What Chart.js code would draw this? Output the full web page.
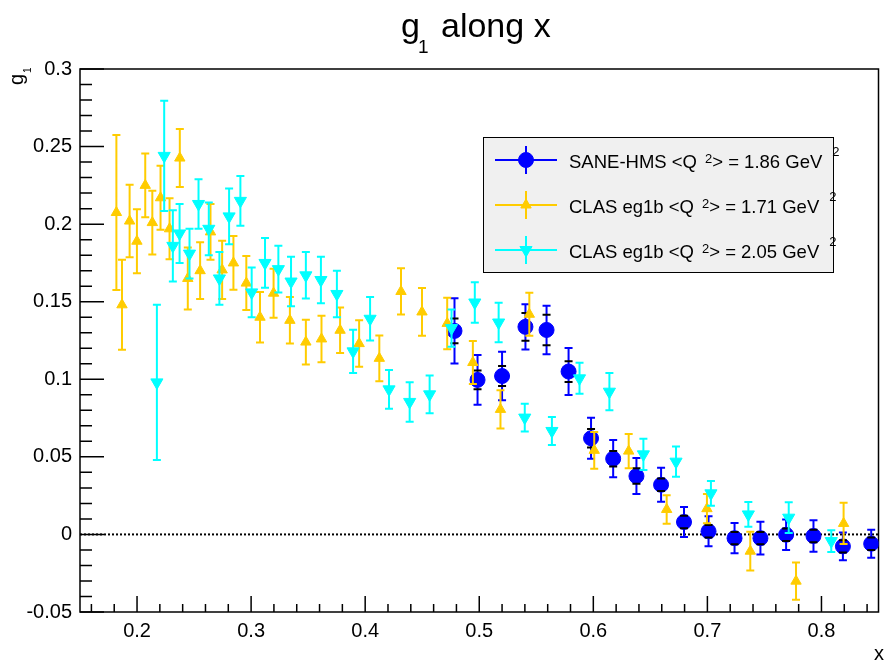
<!DOCTYPE html>
<html><head><meta charset="utf-8">
<script src="https://cdn.jsdelivr.net/npm/chart.js@4/dist/chart.umd.min.js"></script>
<style>html,body{margin:0;padding:0;background:#fff;overflow:hidden}canvas{display:block}</style>
</head><body>
<canvas id="c" width="887" height="665"></canvas>
<script>
// ---- data ----
const xTicks = [0.2, 0.3, 0.4, 0.5, 0.6, 0.7, 0.8];
const yTicks = [-0.05, 0, 0.05, 0.1, 0.15, 0.2, 0.25, 0.3];

const saneX    = [0.4783, 0.4985, 0.520, 0.5405, 0.559, 0.5783, 0.598, 0.6174, 0.6378, 0.6594, 0.6795, 0.701, 0.7238, 0.7465, 0.769, 0.793, 0.8188, 0.8436];
const saneY    = [0.1312, 0.0996, 0.1021, 0.1338, 0.1318, 0.105, 0.062, 0.0488, 0.0376, 0.032, 0.008, 0.002, -0.0024, -0.0024, -0.0002, -0.001, -0.0077, -0.006];
const saneErr  = [0.021, 0.016, 0.0156, 0.0146, 0.0156, 0.0152, 0.0132, 0.012, 0.0116, 0.011, 0.0097, 0.0097, 0.0097, 0.0106, 0.0099, 0.0102, 0.009, 0.009];
const saneStat = [0.008, 0.006, 0.0065, 0.009, 0.0098, 0.0067, 0.006, 0.005, 0.005, 0.004, 0.004, 0.004, 0.004, 0.004, 0.004, 0.004, 0.004, 0.004];

const clas171X   = [0.1819, 0.1868, 0.1935, 0.1999, 0.2072, 0.2134, 0.2206, 0.2285, 0.2375, 0.2445, 0.2553, 0.2644, 0.2746, 0.2845, 0.2958, 0.3078, 0.3197, 0.334, 0.348, 0.3617, 0.378, 0.3947, 0.4124, 0.4314, 0.4498, 0.4719, 0.4944, 0.5186, 0.5439, 0.6008, 0.631, 0.6643, 0.6996, 0.7376, 0.7777, 0.8194];
const clas171Y   = [0.2075, 0.148, 0.202, 0.189, 0.225, 0.201, 0.217, 0.197, 0.2426, 0.165, 0.170, 0.195, 0.1705, 0.175, 0.162, 0.140, 0.1555, 0.138, 0.124, 0.126, 0.1316, 0.123, 0.1135, 0.1566, 0.1434, 0.136, 0.1108, 0.0806, 0.1419, 0.0542, 0.0537, 0.0161, 0.0166, -0.0108, -0.0301, 0.0071];
const clas171Err = [0.050, 0.029, 0.0234, 0.0206, 0.0205, 0.0206, 0.0206, 0.0197, 0.0187, 0.020, 0.0183, 0.018, 0.0188, 0.0173, 0.0174, 0.0163, 0.0158, 0.015, 0.0144, 0.015, 0.0147, 0.015, 0.0147, 0.0149, 0.0154, 0.0166, 0.0139, 0.0123, 0.0138, 0.0118, 0.011, 0.0092, 0.0094, 0.0125, 0.012, 0.0133];

const clas205X   = [0.2174, 0.2238, 0.2314, 0.2373, 0.246, 0.2539, 0.2629, 0.2722, 0.2807, 0.2906, 0.3005, 0.3122, 0.3239, 0.335, 0.348, 0.3612, 0.3752, 0.3894, 0.4043, 0.4209, 0.439, 0.4565, 0.4757, 0.4961, 0.517, 0.5399, 0.5637, 0.5879, 0.6141, 0.6439, 0.6725, 0.7031, 0.7359, 0.7713, 0.8086];
const clas205Y   = [0.098, 0.244, 0.186, 0.194, 0.181, 0.213, 0.197, 0.165, 0.205, 0.215, 0.156, 0.175, 0.171, 0.163, 0.167, 0.164, 0.155, 0.118, 0.139, 0.0935, 0.0854, 0.0903, 0.133, 0.1495, 0.1366, 0.0753, 0.0667, 0.1006, 0.092, 0.0516, 0.0469, 0.0265, 0.0129, 0.0108, -0.0043];
const clas205Err = [0.050, 0.0355, 0.023, 0.019, 0.016, 0.016, 0.017, 0.017, 0.018, 0.016, 0.016, 0.016, 0.015, 0.016, 0.015, 0.015, 0.015, 0.014, 0.014, 0.0125, 0.0127, 0.0122, 0.012, 0.013, 0.0127, 0.009, 0.009, 0.010, 0.012, 0.010, 0.0097, 0.008, 0.008, 0.0099, 0.007];

const seriesLabels = [
  ['SANE-HMS <Q', '> = 1.86 GeV'],
  ['CLAS eg1b <Q', '> = 1.71 GeV'],
  ['CLAS eg1b <Q', '> = 2.05 GeV']
];

// ---- styling ----
const FONT = "'Liberation Sans', Arial, Helvetica, sans-serif";
const BLUE = '#0000ff', ORANGE = '#ffcc00', CYAN = '#00ffff';
const pts = (xs, ys) => xs.map((x, i) => ({x: x, y: ys[i]}));
const fmt = v => String(+(+v).toFixed(3));

function drawMarker(ctx, style, x, y, color) {
  ctx.save();
  ctx.fillStyle = color; ctx.strokeStyle = color; ctx.lineWidth = 1;
  Chart.helpers.drawPoint(ctx, {pointStyle: style.pointStyle, radius: style.radius, rotation: style.rotation || 0, borderWidth: 1}, x, y);
  ctx.restore();
}

const axesPlugin = {
  id: 'rootAxes',
  beforeDatasetsDraw(chart) {
    const {ctx, chartArea: a} = chart;
    const sx = chart.scales.x, sy = chart.scales.y;
    ctx.save();
    ctx.strokeStyle = '#000';
    ctx.lineWidth = 1.5;
    ctx.strokeRect(a.left, a.top, a.right - a.left, a.bottom - a.top);
    ctx.beginPath();
    for (let k = Math.ceil(sx.min / 0.02 - 1e-6); k * 0.02 <= sx.max + 1e-9; k++) {
      const v = k * 0.02;
      const px = sx.getPixelForValue(v);
      const major = Math.abs(v * 10 - Math.round(v * 10)) < 1e-6;
      ctx.moveTo(px, a.bottom); ctx.lineTo(px, a.bottom - (major ? 16 : 8));
    }
    for (let k = Math.ceil(sy.min / 0.01 - 1e-6); k * 0.01 <= sy.max + 1e-9; k++) {
      const v = k * 0.01;
      const py = sy.getPixelForValue(v);
      const major = Math.abs(v * 20 - Math.round(v * 20)) < 1e-6;
      ctx.moveTo(a.left, py); ctx.lineTo(a.left + (major ? 24 : 12), py);
    }
    ctx.stroke();
    // dotted zero line
    const y0 = sy.getPixelForValue(0);
    ctx.beginPath();
    ctx.setLineDash([2, 2]);
    ctx.lineWidth = 2;
    ctx.moveTo(a.left, y0); ctx.lineTo(a.right, y0);
    ctx.stroke();
    ctx.restore();
  }
};

const errPlugin = {
  id: 'errBars',
  beforeDatasetDraw(chart, args) {
    const ds = chart.data.datasets[args.index];
    if (!ds.err) return;
    const ctx = chart.ctx, sx = chart.scales.x, sy = chart.scales.y;
    ctx.save();
    ctx.strokeStyle = ds.backgroundColor; ctx.lineWidth = 2;
    ctx.beginPath();
    ds.data.forEach((p, j) => {
      const px = sx.getPixelForValue(p.x);
      const y1 = sy.getPixelForValue(p.y + ds.err[j]);
      const y2 = sy.getPixelForValue(p.y - ds.err[j]);
      ctx.moveTo(px, y1); ctx.lineTo(px, y2);
      ctx.moveTo(px - 4, y1); ctx.lineTo(px + 4, y1);
      ctx.moveTo(px - 4, y2); ctx.lineTo(px + 4, y2);
    });
    ctx.stroke();
    ctx.restore();
  },
  afterDatasetDraw(chart, args) {
    const ds = chart.data.datasets[args.index];
    if (!ds.stat) return;
    const ctx = chart.ctx, sx = chart.scales.x, sy = chart.scales.y;
    ctx.save();
    ctx.strokeStyle = '#000'; ctx.lineWidth = 2;
    ctx.beginPath();
    ds.data.forEach((p, j) => {
      const px = sx.getPixelForValue(p.x);
      [p.y + ds.stat[j], p.y - ds.stat[j]].forEach(v => {
        const py = sy.getPixelForValue(v);
        ctx.moveTo(px - 4, py); ctx.lineTo(px + 4, py);
      });
    });
    ctx.stroke();
    ctx.restore();
  }
};

const textPlugin = {
  id: 'rootText',
  afterDraw(chart) {
    const ctx = chart.ctx;
    ctx.save();
    ctx.fillStyle = '#000';
    ctx.textBaseline = 'alphabetic';
    ctx.textAlign = 'left';
    // title
    ctx.font = '34px ' + FONT;
    ctx.fillText('g', 401, 37);
    ctx.font = '19px ' + FONT;
    ctx.fillText('1', 418, 53);
    ctx.font = '34px ' + FONT;
    ctx.fillText('along x', 441, 37);
    // x axis title
    ctx.font = '20px ' + FONT;
    ctx.fillText('x', 874, 660);
    // y axis title (rotated)
    ctx.save();
    ctx.translate(23, 85);
    ctx.rotate(-Math.PI / 2);
    ctx.font = '20px ' + FONT;
    ctx.fillText('g', 0, 0);
    const gw = ctx.measureText('g').width;
    ctx.font = '10px ' + FONT;
    ctx.fillText('1', gw + 1, 8);
    ctx.restore();
    // legend
    const bx = 483, by = 137, bw = 350, bh = 135;
    ctx.fillStyle = '#f0f0f0';
    ctx.fillRect(bx, by, bw, bh);
    ctx.strokeStyle = '#000'; ctx.lineWidth = 1;
    ctx.strokeRect(bx + 0.5, by + 0.5, bw, bh);
    const rows = [160, 205, 250];
    chart.data.datasets.slice().sort((a, b) => a.legendRow - b.legendRow).forEach((ds, i) => {
      const cy = rows[i];
      ctx.strokeStyle = ds.backgroundColor; ctx.lineWidth = 2;
      ctx.beginPath();
      ctx.moveTo(495, cy); ctx.lineTo(557, cy);
      ctx.moveTo(526, cy - 14); ctx.lineTo(526, cy + 14);
      ctx.stroke();
      drawMarker(ctx, ds, 526, cy, ds.backgroundColor);
      const lab = seriesLabels[ds.legendRow];
      ctx.fillStyle = '#000';
      ctx.font = '18.5px ' + FONT;
      const base = cy + 8;
      ctx.fillText(lab[0], 569, base);
      const w1 = ctx.measureText(lab[0]).width;
      ctx.font = '13px ' + FONT;
      ctx.fillText('2', 569 + w1 + 8, base - 5);
      const x2 = 569 + w1 + 8 + ctx.measureText('2').width;
      ctx.font = '18.5px ' + FONT;
      ctx.fillText(lab[1], x2, base);
      const w2 = ctx.measureText(lab[1]).width;
      ctx.font = '13px ' + FONT;
      ctx.fillText('2', x2 + w2 + 10, base - 12);
    });
    ctx.restore();
  }
};

new Chart(document.getElementById('c'), {
  type: 'scatter',
  data: {
    datasets: [
      {label: 'SANE-HMS', data: pts(saneX, saneY), err: saneErr, stat: saneStat, legendRow: 0,
       backgroundColor: BLUE, borderColor: BLUE, pointStyle: 'circle', radius: 7.5, pointRadius: 7.5, borderWidth: 1, order: 3},
      {label: 'CLAS eg1b 1.71', data: pts(clas171X, clas171Y), err: clas171Err, legendRow: 1,
       backgroundColor: ORANGE, borderColor: ORANGE, pointStyle: 'triangle', radius: 6, pointRadius: 6, borderWidth: 1, order: 2},
      {label: 'CLAS eg1b 2.05', data: pts(clas205X, clas205Y), err: clas205Err, legendRow: 2,
       backgroundColor: CYAN, borderColor: CYAN, pointStyle: 'triangle', rotation: 180, pointRotation: 180, radius: 7, pointRadius: 7, borderWidth: 1, order: 1}
    ]
  },
  options: {
    responsive: false,
    animation: false,
    events: [],
    devicePixelRatio: 1,
    layout: {padding: {top: 69, right: 2, left: 0, bottom: 0}},
    plugins: {legend: {display: false}, title: {display: false}, tooltip: {enabled: false}},
    scales: {
      x: {
        type: 'linear', min: 0.15, max: 0.85,
        grid: {display: false, drawTicks: false}, border: {display: false},
        ticks: {padding: 7, color: '#000', font: {family: FONT, size: 20}, maxRotation: 0, autoSkip: false, callback: v => fmt(v)},
        afterBuildTicks: s => { s.ticks = xTicks.map(v => ({value: v})); },
        afterFit: s => { s.height = 53; }
      },
      y: {
        type: 'linear', min: -0.05, max: 0.3,
        grid: {display: false, drawTicks: false}, border: {display: false},
        ticks: {padding: 8, color: '#000', font: {family: FONT, size: 20}, autoSkip: false, callback: v => fmt(v)},
        afterBuildTicks: s => { s.ticks = yTicks.map(v => ({value: v})); },
        afterFit: s => { s.width = 80; }
      }
    }
  },
  plugins: [axesPlugin, errPlugin, textPlugin]
});
</script>
</body></html>
